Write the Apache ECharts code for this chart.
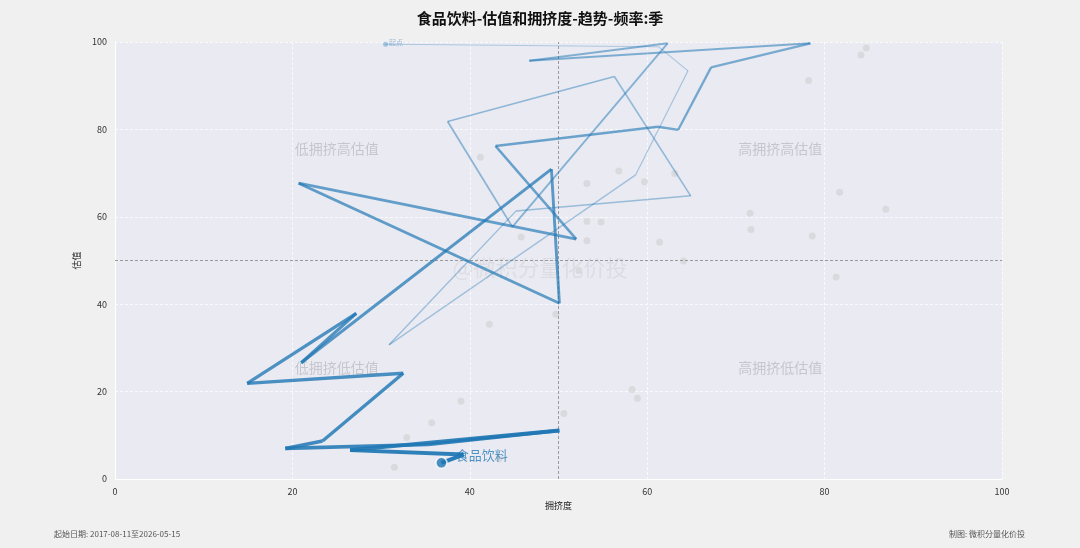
<!DOCTYPE html>
<html>
<head>
<meta charset="utf-8">
<script src="https://cdn.jsdelivr.net/npm/echarts@6/dist/echarts.min.js"></script>
<style>
  html, body { margin: 0; padding: 0; background: #f0f0f0; }
  #main { width: 1080px; height: 548px; }
</style>
</head>
<body>
<div id="main"></div>
<script>
// 食品饮料 轨迹 (季度): 拥挤度 / 估值
var crowd = [30.5, 61.3, 64.6, 58.7, 30.9, 45.2, 64.9, 56.3, 37.5, 44.8, 62.3, 46.7, 78.4, 67.2, 63.5, 61.2,
             42.9, 52.0, 20.7, 50.1, 49.2, 21.0, 27.2, 14.9, 32.5, 23.4, 19.2, 35.3, 50.1, 26.5, 39.3, 36.8];
var valuation = [99.5, 98.9, 93.4, 69.6, 30.7, 61.3, 64.8, 92.1, 81.8, 57.7, 99.7, 95.7, 99.7, 94.2, 79.9, 80.6,
                 76.2, 54.9, 67.7, 40.2, 70.9, 26.6, 37.9, 21.9, 24.2, 8.7, 7.0, 7.9, 11.1, 6.6, 5.6, 3.7];
// 其他行业当前点
var otherCrowd = [84.7, 84.1, 78.2, 41.2, 56.8, 53.2, 59.7, 63.1, 81.7, 86.9, 71.6, 71.7, 53.2, 54.8, 78.6, 53.2,
                  61.4, 45.8, 64.1, 52.3, 81.3, 49.7, 42.2, 58.3, 58.9, 39.0, 50.6, 35.7, 32.9, 43.3, 31.5];
var otherVal = [98.6, 97.0, 91.2, 73.6, 70.5, 67.6, 68.0, 69.9, 65.6, 61.7, 60.8, 57.1, 59.0, 58.8, 55.6, 54.5,
                54.2, 55.4, 49.9, 47.7, 46.2, 37.7, 35.4, 20.5, 18.5, 17.8, 15.0, 12.9, 9.5, 4.6, 2.7];
var quadrants = [['低拥挤高估值', 25, 75.5], ['高拥挤高估值', 75, 75.5], ['低拥挤低估值', 25, 25.5], ['高拥挤低估值', 75, 25.5]];
var ticks = [0, 20, 40, 60, 80, 100];

var myChart = echarts.init(document.getElementById('main'));
var blue = '31,119,180';
var font = '"Noto Sans CJK SC", "Noto Sans", sans-serif';

var series = [];

series.push({
    type: 'scatter',
    symbolSize: 7,
    silent: true,
    itemStyle: { color: 'rgba(200,200,200,0.6)' },
    data: otherCrowd.map(function (x, i) { return [x, otherVal[i]]; }),
    z: 1
});

var n = crowd.length;
for (var i = 0; i < n - 1; i++) {
    var t = i / (n - 2);
    series.push({
        type: 'line',
        silent: true,
        symbol: 'none',
        animation: false,
        lineStyle: { color: 'rgb(' + blue + ')', width: 1 + t * 3, opacity: 0.3 + t * 0.65 },
        data: [[crowd[i], valuation[i]], [crowd[i + 1], valuation[i + 1]]],
        z: 2 + i
    });
}

series.push({
    type: 'scatter',
    symbolSize: 5,
    z: 50,
    itemStyle: { color: 'rgba(' + blue + ',0.45)' },
    label: { show: true, formatter: '起点', position: 'right', distance: 1, offset: [0, -2],
             fontSize: 7, color: 'rgba(' + blue + ',0.55)', fontFamily: font },
    data: [[crowd[0], valuation[0]]]
});
series.push({
    type: 'scatter',
    symbolSize: 11,
    z: 60,
    itemStyle: { color: 'rgb(' + blue + ')', borderColor: '#fff', borderWidth: 1.5 },
    label: { show: true, formatter: '食品饮料', position: 'right', offset: [3, -8],
             fontSize: 13, color: 'rgba(' + blue + ',0.95)', fontFamily: font },
    data: [[crowd[n - 1], valuation[n - 1]]]
});

// 四象限文字 + 中线
series.push({
    type: 'scatter',
    symbolSize: 0,
    silent: true,
    z: 0,
    label: { show: true, position: 'inside', formatter: function (p) { return p.data[2]; },
             fontSize: 14, color: '#bdbdc4', fontFamily: font },
    data: quadrants.map(function (q) { return [q[1], q[2], q[0]]; }),
    markLine: {
        silent: true, symbol: 'none', label: { show: false },
        lineStyle: { color: '#9a9a9a', type: [3, 2], width: 1 },
        data: [{ xAxis: 50 }, { yAxis: 50 }]
    }
});

var option = {
    backgroundColor: '#f0f0f0',
    animation: false,
    title: {
        text: '食品饮料-估值和拥挤度-趋势-频率:季',
        left: 'center', top: 6,
        textStyle: { fontSize: 15, fontWeight: 'bold', color: '#111', fontFamily: font }
    },
    grid: { left: 115, right: 78, top: 42, bottom: 69, show: true, backgroundColor: '#eaeaf2', borderWidth: 0 },
    xAxis: {
        type: 'value', min: ticks[0], max: ticks[ticks.length - 1], interval: 20,
        name: '拥挤度', nameLocation: 'middle', nameGap: 22,
        nameTextStyle: { fontSize: 9, color: '#222', fontFamily: font },
        axisLine: { show: true, lineStyle: { color: '#fff', width: 1 } },
        axisTick: { show: false },
        axisLabel: { fontSize: 9, color: '#333', margin: 8, fontFamily: font },
        splitLine: { show: true, lineStyle: { color: '#fafafc', type: [3, 2], width: 1 } }
    },
    yAxis: {
        type: 'value', min: ticks[0], max: ticks[ticks.length - 1], interval: 20,
        name: '估值', nameLocation: 'middle', nameGap: 28,
        nameTextStyle: { fontSize: 9, color: '#222', fontFamily: font },
        axisLine: { show: true, lineStyle: { color: '#fff', width: 1 } },
        axisTick: { show: false },
        axisLabel: { fontSize: 9, color: '#333', margin: 8, fontFamily: font },
        splitLine: { show: true, lineStyle: { color: '#fafafc', type: [3, 2], width: 1 } }
    },
    graphic: [
        { type: 'text', left: 'center', top: 257, z: 0, silent: true,
          style: { text: '@微积分量化价投', fontSize: 22, fill: 'rgba(0,0,0,0.06)', fontFamily: font } },
        { type: 'text', left: 54, top: 530,
          style: { text: '起始日期: 2017-08-11至2026-05-15', fontSize: 8, fill: '#555', fontFamily: font } },
        { type: 'text', right: 55, top: 530,
          style: { text: '制图: 微积分量化价投', fontSize: 8, fill: '#555', fontFamily: font } }
    ],
    series: series
};

myChart.setOption(option);
</script>
</body>
</html>
